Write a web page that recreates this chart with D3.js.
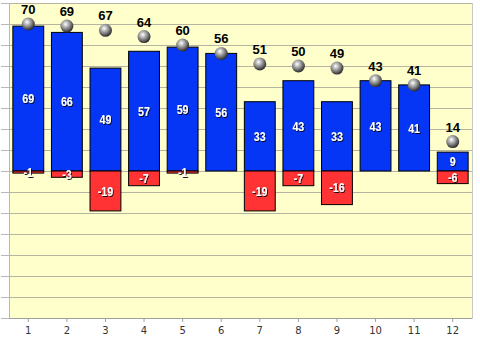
<!DOCTYPE html>
<html><head><meta charset="utf-8">
<script src="https://cdn.jsdelivr.net/npm/d3@7"></script>
<style>
html,body{margin:0;padding:0;background:#fff;}
svg{display:block;}
</style></head>
<body>
<svg id="chart" width="480" height="342"></svg>
<script>
const categories = ["1","2","3","4","5","6","7","8","9","10","11","12"];
const positives = [69,66,49,57,59,56,33,43,33,43,41,9];
const negatives = [-1,-3,-19,-7,-1,0,-19,-7,-16,0,0,-6];
const totals = [70,69,67,64,60,56,51,50,49,43,41,14];
const yTicks = [-70,-60,-50,-40,-30,-20,-10,0,10,20,30,40,50,60,70,80];

const svg = d3.select("#chart");
const L = 9, R = 472, T = 3, B = 318;

const x = d3.scaleBand().domain(categories).range([L, R]).paddingInner(0.2).paddingOuter(0.1);
const y = d3.scaleLinear().domain([-70, 80]).range([B, T]);

const defs = svg.append("defs");
const grad = defs.append("radialGradient").attr("id","sph").attr("cx","40%").attr("cy","35%").attr("r","65%");
grad.append("stop").attr("offset","0%").attr("stop-color","#ffffff");
grad.append("stop").attr("offset","25%").attr("stop-color","#c8c8c8");
grad.append("stop").attr("offset","70%").attr("stop-color","#6a6a6a");
grad.append("stop").attr("offset","100%").attr("stop-color","#2a2a2a");
const sh = defs.append("filter").attr("id","shadow").attr("x","-20%").attr("y","-20%").attr("width","150%").attr("height","150%");
sh.append("feDropShadow").attr("dx",1).attr("dy",1).attr("stdDeviation",0.3).attr("flood-color","#000").attr("flood-opacity",0.9);

// plot background
svg.append("rect").attr("x", L).attr("y", T).attr("width", R - L).attr("height", B - T).attr("fill", "#ffffcc");

// grid
svg.append("g").selectAll("line").data(yTicks).join("line")
  .attr("x1", L).attr("x2", R).attr("y1", d => y(d)).attr("y2", d => y(d))
  .attr("stroke", "#b4b4a0").attr("stroke-width", 1).attr("shape-rendering","crispEdges");

// right border
svg.append("line").attr("x1",R).attr("x2",R).attr("y1",T).attr("y2",B).attr("stroke","#c8c8c8").attr("shape-rendering","crispEdges");

// y axis (ticks without labels)
const yAxis = svg.append("g").attr("transform", `translate(${L},0)`)
  .call(d3.axisLeft(y).tickValues(yTicks).tickSize(8).tickFormat(""));
yAxis.select(".domain").attr("stroke","#b8b8b8");
yAxis.selectAll(".tick line").attr("stroke","#b8b8b8");

// x axis
const xAxis = svg.append("g").attr("transform", `translate(0,${B})`)
  .call(d3.axisBottom(x).tickSize(4).tickPadding(5).tickSizeOuter(0));
xAxis.select(".domain").attr("stroke","#a0a0a0");
xAxis.selectAll(".tick line").attr("stroke","#a0a0a0");
xAxis.selectAll("text").attr("fill","#333").attr("font-family","DejaVu Sans, sans-serif").attr("font-size","10px");

const bw = x.bandwidth();
// positive bars
svg.append("g").selectAll("rect").data(categories).join("rect")
  .attr("x", d => x(d)).attr("width", bw)
  .attr("y", (d,i) => y(positives[i])).attr("height", (d,i) => y(0) - y(positives[i]))
  .attr("fill", "#0535f5").attr("stroke","#000").attr("stroke-width",1);
// negative bars
svg.append("g").selectAll("rect").data(categories.filter((d,i)=>negatives[i]!==0)).join("rect")
  .attr("x", d => x(d)).attr("width", bw)
  .attr("y", y(0)).attr("height", d => y(negatives[categories.indexOf(d)]) - y(0))
  .attr("fill", "#ff3333").attr("stroke","#000").attr("stroke-width",1);

// bar labels (condensed bold white with shadow)
const lblFont = "'Liberation Sans', Arial, sans-serif";
svg.append("g").selectAll("text").data(categories).join("text")
  .attr("transform", (d,i) => `translate(${x(d) + bw/2},${(y(positives[i]) + y(0))/2}) scale(0.82,1)`)
  .attr("text-anchor","middle").attr("dy","0.36em")
  .attr("font-family", lblFont).attr("font-weight","bold").attr("font-size","13px")
  .attr("fill","#fff").attr("filter","url(#shadow)")
  .text((d,i) => positives[i]);
svg.append("g").selectAll("text").data(categories.filter((d,i)=>negatives[i]!==0)).join("text")
  .attr("transform", d => { const v = negatives[categories.indexOf(d)]; return `translate(${x(d) + bw/2},${(y(v) + y(0))/2}) scale(0.82,1)`; })
  .attr("text-anchor","middle").attr("dy","0.36em")
  .attr("font-family", lblFont).attr("font-weight","bold").attr("font-size","13px")
  .attr("fill","#fff").attr("filter","url(#shadow)")
  .text(d => negatives[categories.indexOf(d)]);

// spheres
svg.append("g").selectAll("circle").data(categories).join("circle")
  .attr("cx", d => x(d) + bw/2).attr("cy", (d,i) => y(totals[i]))
  .attr("r", 6.5).attr("fill","url(#sph)");
// total labels
svg.append("g").selectAll("text").data(categories).join("text")
  .attr("x", d => x(d) + bw/2).attr("y", (d,i) => y(totals[i]) - 10)
  .attr("text-anchor","middle")
  .attr("font-family","'Liberation Sans', Arial, sans-serif").attr("font-weight","bold").attr("font-size","13px")
  .attr("fill","#000")
  .text((d,i) => totals[i]);
</script>
</body></html>
